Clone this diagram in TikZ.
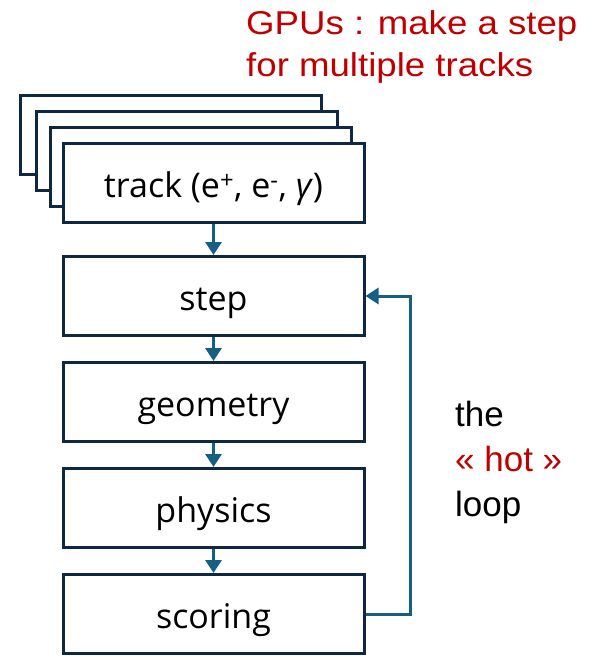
\documentclass[tikz,border=0pt]{standalone}
\usepackage{fontspec}
\setmainfont{Liberation Sans}
\newfontfamily\boxfont{Open Sans}
\newfontfamily\redfont[FakeStretch=1.11]{Liberation Sans}
\usetikzlibrary{arrows.meta}
\definecolor{boxline}{HTML}{0E2841}
\definecolor{arrowc}{HTML}{156082}
\definecolor{redtxt}{HTML}{C00000}
\tikzset{
  box/.style={draw=boxline, line width=3pt, fill=white, minimum width=301pt, minimum height=79pt, inner sep=0pt,
    text height=30pt, text depth=1pt,
    font=\boxfont\fontsize{34}{40}\selectfont},
  flow/.style={draw=arrowc, line width=3pt, -{Triangle[length=13pt,width=16pt]}},
}
\begin{document}
\begin{tikzpicture}[x=1pt,y=-1pt]
\useasboundingbox (0,0) rectangle (594,656);
\node[box] (t1) at (171,135) {};
\node[box] (t2) at (186.5,151) {};
\node[box] (t3) at (200.5,167) {};
\node[box] (track) at (213.5,183) {track (e\textsuperscript{+}, e\textsuperscript{-}, \textit{γ})};
\node[box] (step) at (213.5,296) {step};
\node[box] (geom) at (213.5,402) {geometry};
\node[box] (phys) at (213.5,508) {physics};
\node[box] (scor) at (213.5,614) {scoring};
\draw[flow] (track) -- (step);
\draw[flow] (step) -- (geom);
\draw[flow] (geom) -- (phys);
\draw[flow] (phys) -- (scor);
\coordinate (lc) at (410,614);
\draw[flow] (scor.east) -- (lc) |- (step.east);
\node[anchor=west, align=left, text=redtxt, inner sep=0pt, font=\redfont\fontsize{33}{42}\selectfont] (gpu) at (246,46.5) {GPUs : make a step\\for multiple tracks};
\node[anchor=west, align=left, inner sep=0pt, font=\fontsize{35}{45}\selectfont] (hot) at (455,462.6) {the\\\textcolor{redtxt}{« hot »}\\loop};
\end{tikzpicture}
\end{document}
